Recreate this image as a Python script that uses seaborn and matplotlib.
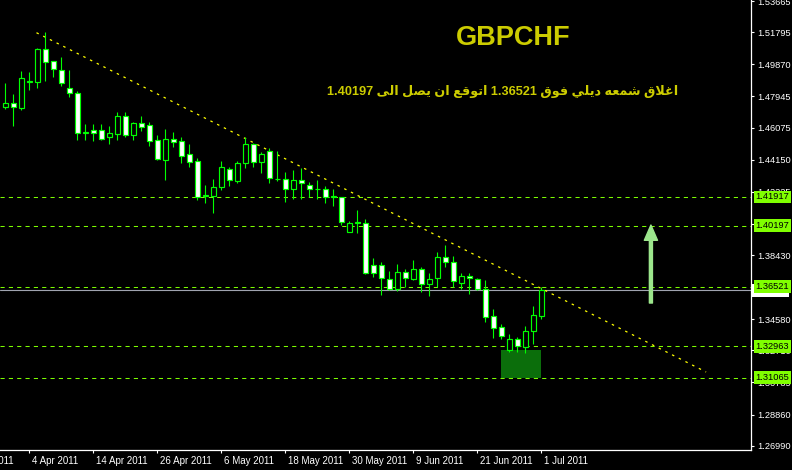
import re
import pandas as pd
import seaborn as sns
import matplotlib
matplotlib.use("Agg")
import matplotlib.pyplot as plt
from matplotlib.patches import Rectangle
from matplotlib.transforms import ScaledTranslation

# GBPCHF daily candles, 30 Mar 2011 - 1 Jul 2011
opens = [1.4729, 1.4753, 1.4727, 1.4882, 1.4883, 1.5079, 1.5007, 1.4953, 1.4843, 1.4813,
         1.4578, 1.4593, 1.4593, 1.4553, 1.4571, 1.4677, 1.4565, 1.4633, 1.4621, 1.4533,
         1.4415, 1.4539, 1.4525, 1.4447, 1.4405, 1.4197, 1.4199, 1.4253, 1.4357, 1.4289,
         1.4393, 1.4507, 1.4399, 1.4465, 1.4299, 1.4297, 1.4237, 1.4293, 1.4261, 1.4237,
         1.4237, 1.4193, 1.4189, 1.3983, 1.4036, 1.4037, 1.3783, 1.3783, 1.3697, 1.3641,
         1.3739, 1.3701, 1.3757, 1.3667, 1.3703, 1.3829, 1.3799, 1.3677, 1.3717, 1.3701,
         1.3641, 1.3475, 1.3409, 1.3275, 1.3339, 1.3293, 1.3385, 1.3479]
highs = [1.4877, 1.4809, 1.4945, 1.4941, 1.5083, 1.5183, 1.5009, 1.5031, 1.4953, 1.4827,
         1.4629, 1.4629, 1.4629, 1.4617, 1.4701, 1.4701, 1.4641, 1.4677, 1.4641, 1.4561,
         1.4599, 1.4581, 1.4551, 1.4509, 1.4425, 1.4263, 1.4299, 1.4407, 1.4373, 1.4407,
         1.4549, 1.4513, 1.4463, 1.4483, 1.4467, 1.4341, 1.4353, 1.4367, 1.4279, 1.4293,
         1.4257, 1.4237, 1.4193, 1.4049, 1.4113, 1.4057, 1.3825, 1.3801, 1.3747, 1.3789,
         1.3757, 1.3813, 1.3769, 1.3733, 1.3861, 1.3901, 1.3837, 1.3737, 1.3733, 1.3705,
         1.3693, 1.3519, 1.3427, 1.3369, 1.3351, 1.3417, 1.3537, 1.3653]
lows = [1.4719, 1.4617, 1.4713, 1.4833, 1.4847, 1.4887, 1.4913, 1.4859, 1.4793, 1.4533,
        1.4533, 1.4529, 1.4533, 1.4509, 1.4533, 1.4553, 1.4533, 1.4589, 1.4497, 1.4413,
        1.4293, 1.4493, 1.4397, 1.4373, 1.4173, 1.4153, 1.4095, 1.4233, 1.4257, 1.4273,
        1.4363, 1.4369, 1.4337, 1.4277, 1.4289, 1.4163, 1.4177, 1.4177, 1.4189, 1.4179,
        1.4157, 1.4137, 1.4023, 1.3983, 1.3977, 1.3729, 1.3713, 1.3603, 1.3633, 1.3629,
        1.3649, 1.3693, 1.3623, 1.3599, 1.3653, 1.3773, 1.3653, 1.3637, 1.3609, 1.3633,
        1.3443, 1.3347, 1.3339, 1.3263, 1.3259, 1.3253, 1.3309, 1.3459]
closes = [1.4753, 1.4729, 1.4903, 1.4886, 1.5079, 1.5003, 1.4957, 1.4877, 1.4813, 1.4573,
          1.4580, 1.4577, 1.4537, 1.4573, 1.4677, 1.4565, 1.4633, 1.4613, 1.4529, 1.4417,
          1.4539, 1.4523, 1.4439, 1.4403, 1.4193, 1.4201, 1.4249, 1.4371, 1.4293, 1.4393,
          1.4509, 1.4399, 1.4447, 1.4307, 1.4302, 1.4237, 1.4293, 1.4277, 1.4237, 1.4239,
          1.4193, 1.4195, 1.4043, 1.4033, 1.4039, 1.3737, 1.3737, 1.3707, 1.3641, 1.3739,
          1.3703, 1.3757, 1.3667, 1.3699, 1.3829, 1.3799, 1.3689, 1.3717, 1.3705, 1.3641,
          1.3473, 1.3407, 1.3359, 1.3339, 1.3299, 1.3385, 1.3481, 1.3632]

dates = pd.bdate_range("2011-03-30", "2011-07-01")
df = pd.DataFrame({"Date": dates, "Open": opens, "High": highs, "Low": lows, "Close": closes})
df["i"] = range(len(df))

date_ticks = ["2011-04-04", "2011-04-14", "2011-04-26", "2011-05-06", "2011-05-18",
              "2011-05-30", "2011-06-09", "2011-06-21", "2011-07-01"]
date_labels = ["4 Apr 2011", "14 Apr 2011", "26 Apr 2011", "6 May 2011", "18 May 2011",
               "30 May 2011", "9 Jun 2011", "21 Jun 2011", "1 Jul 2011"]

price_ticks = [1.53665, 1.51795, 1.49870, 1.47945, 1.46075, 1.44150, 1.42225, 1.40300,
               1.38430, 1.36505, 1.34580, 1.32710, 1.30785, 1.28860, 1.26990]
levels = [1.41917, 1.40197, 1.36521, 1.32963, 1.31065]
bid = 1.3632

trend_x = [3.9, 87.6]
trend_y = [1.5177, 1.3141]
box_x, box_w = 62.0, 4.9
box_lo, box_hi = 1.3106, 1.3273
arrow_x, arrow_from, arrow_to = 80.7, 1.3555, 1.4023

title = "GBPCHF"
comment = "اغلاق شمعه ديلي فوق 1.36521 اتوقع ان يصل الى 1.40197"

# simple arabic shaping (presentation forms) + right-to-left ordering
FORMS = {
    'ا': ('\uFE8D', '\uFE8E', None, None),
    'غ': ('\uFECD', '\uFECE', '\uFECF', '\uFED0'),
    'ل': ('\uFEDD', '\uFEDE', '\uFEDF', '\uFEE0'),
    'ق': ('\uFED5', '\uFED6', '\uFED7', '\uFED8'),
    'ش': ('\uFEB5', '\uFEB6', '\uFEB7', '\uFEB8'),
    'م': ('\uFEE1', '\uFEE2', '\uFEE3', '\uFEE4'),
    'ع': ('\uFEC9', '\uFECA', '\uFECB', '\uFECC'),
    'ه': ('\uFEE9', '\uFEEA', '\uFEEB', '\uFEEC'),
    'د': ('\uFEA9', '\uFEAA', None, None),
    'ي': ('\uFEF1', '\uFEF2', '\uFEF3', '\uFEF4'),
    'ف': ('\uFED1', '\uFED2', '\uFED3', '\uFED4'),
    'و': ('\uFEED', '\uFEEE', None, None),
    'ت': ('\uFE95', '\uFE96', '\uFE97', '\uFE98'),
    'ن': ('\uFEE5', '\uFEE6', '\uFEE7', '\uFEE8'),
    'ص': ('\uFEB9', '\uFEBA', '\uFEBB', '\uFEBC'),
    'ى': ('\uFEEF', '\uFEF0', None, None),
}


def joins_next(c):
    return c in FORMS and FORMS[c][2] is not None


def shape_arabic(text):
    out = []
    n = len(text)
    i = 0
    while i < n:
        c = text[i]
        if c not in FORMS:
            out.append(c)
            i += 1
            continue
        link_prev = i > 0 and joins_next(text[i - 1])
        if c == 'ل' and i + 1 < n and text[i + 1] == 'ا':
            out.append('\uFEFC' if link_prev else '\uFEFB')
            i += 2
            continue
        link_next = joins_next(c) and i + 1 < n and text[i + 1] in FORMS
        iso, fin, ini, med = FORMS[c]
        if link_prev and link_next:
            out.append(med)
        elif link_prev:
            out.append(fin)
        elif link_next:
            out.append(ini)
        else:
            out.append(iso)
        i += 1
    tokens = re.findall(r'[0-9.]+|[^0-9.]+', ''.join(out))
    return ''.join(t if t[0].isdigit() else t[::-1] for t in reversed(tokens))


sns.set_style("dark", {"axes.facecolor": "black", "figure.facecolor": "black",
                       "axes.edgecolor": "white", "xtick.color": "white",
                       "ytick.color": "white", "text.color": "white"})
plt.rcParams["font.family"] = ["Liberation Sans", "DejaVu Sans"]
FSX = 7
FSY = 6.7

fig = plt.figure(figsize=(7.92, 4.70), dpi=100, facecolor="black")
ax = fig.add_axes([0, 20 / 470, 751 / 792, 450 / 470])
ax.set_facecolor("black")

# wicks and bodies
ax.vlines(df["i"], df["Low"], df["High"], color="#00FF00", lw=0.8, zorder=3)
bottoms = df[["Open", "Close"]].min(axis=1)
heights = (df["Open"] - df["Close"]).abs().clip(lower=0.00008)
faces = ["white" if c < o else "black" for o, c in zip(opens, closes)]
ax.bar(df["i"], heights, bottom=bottoms, width=0.58, color=faces,
       edgecolor="#00FF00", linewidth=0.85, zorder=4)

# levels, bid line, trend line
for lv in levels:
    ax.axhline(lv, color="#7CFC00", lw=0.75, ls=(0, (4, 4)), zorder=2)
ax.axhline(bid, color="#A0A4B0", lw=0.8, zorder=2)
ax.plot(trend_x, trend_y, color="#FFFF00", lw=0.9, ls=(0, (2, 4)), zorder=2)

ax.add_patch(Rectangle((box_x, box_lo), box_w, box_hi - box_lo,
                       facecolor="#0B6E0B", edgecolor="none", zorder=1))
ax.annotate("", xy=(arrow_x, arrow_to), xytext=(arrow_x, arrow_from),
            arrowprops=dict(arrowstyle="simple,head_length=1.1,head_width=0.95,tail_width=0.22",
                            mutation_scale=10, color="#9CE68C", shrinkA=0, shrinkB=0))

ax.set_xlim(-0.66, 93.21)
ax.set_ylim(1.26732, 1.53732)

for s in ["top", "left"]:
    ax.spines[s].set_visible(False)
for s in ["right", "bottom"]:
    ax.spines[s].set_color("white")
    ax.spines[s].set_linewidth(0.9)

# x axis
tick_pos = [int(df.index[df["Date"] == pd.Timestamp(d)][0]) for d in date_ticks]
ax.set_xticks(tick_pos)
ax.set_xticklabels(date_labels)
ax.tick_params(axis="x", length=2.2, width=0.8, pad=1.8, labelsize=FSX,
               colors="white", direction="out", bottom=True)
shift = ScaledTranslation(3 / 100, 0, fig.dpi_scale_trans)
for lab in ax.get_xticklabels():
    lab.set_ha("left")
    lab.set_transform(lab.get_transform() + shift)
ax.annotate("23 Mar 2011", xy=(-5, 0), xycoords=("data", "axes fraction"),
            xytext=(-3.8, -4.0), textcoords="offset points", ha="left", va="top",
            fontsize=FSX, color="white", annotation_clip=False)

# y axis on the right
ax.yaxis.tick_right()
ax.set_yticks(price_ticks)
ax.set_yticklabels([f"{p:.5f}" for p in price_ticks])
ax.tick_params(axis="y", length=2.2, width=0.8, pad=2, labelsize=FSY,
               colors="white", direction="out", right=True, left=False)
ax.grid(False)

ytr = ax.get_yaxis_transform()
ax.text(1.0 + 3 / 751, bid, f"{bid:.5f}", transform=ytr, ha="left", va="center",
        fontsize=FSY, color="white",
        bbox=dict(boxstyle="square,pad=0.2", fc="white", ec="none"),
        clip_on=False, zorder=5)
for lv in levels:
    ax.text(1.0 + 4.5 / 751, lv, f"{lv:.5f}", transform=ytr, ha="left", va="center",
            fontsize=FSY, color="black",
            bbox=dict(boxstyle="square,pad=0.2", fc="#80FF00", ec="none"),
            clip_on=False, zorder=6)

# headline texts
fig.text(513 / 792, 1 - 38 / 470, title, ha="center", va="center", fontsize=19.5,
         fontweight="bold", color="#CCCC00")
fig.text(503 / 792, 1 - 91 / 470, shape_arabic(comment), ha="center", va="center",
         fontsize=9.2, fontweight="bold", color="#CCCC00")

fig.savefig("out.png", dpi=100, facecolor="black")
